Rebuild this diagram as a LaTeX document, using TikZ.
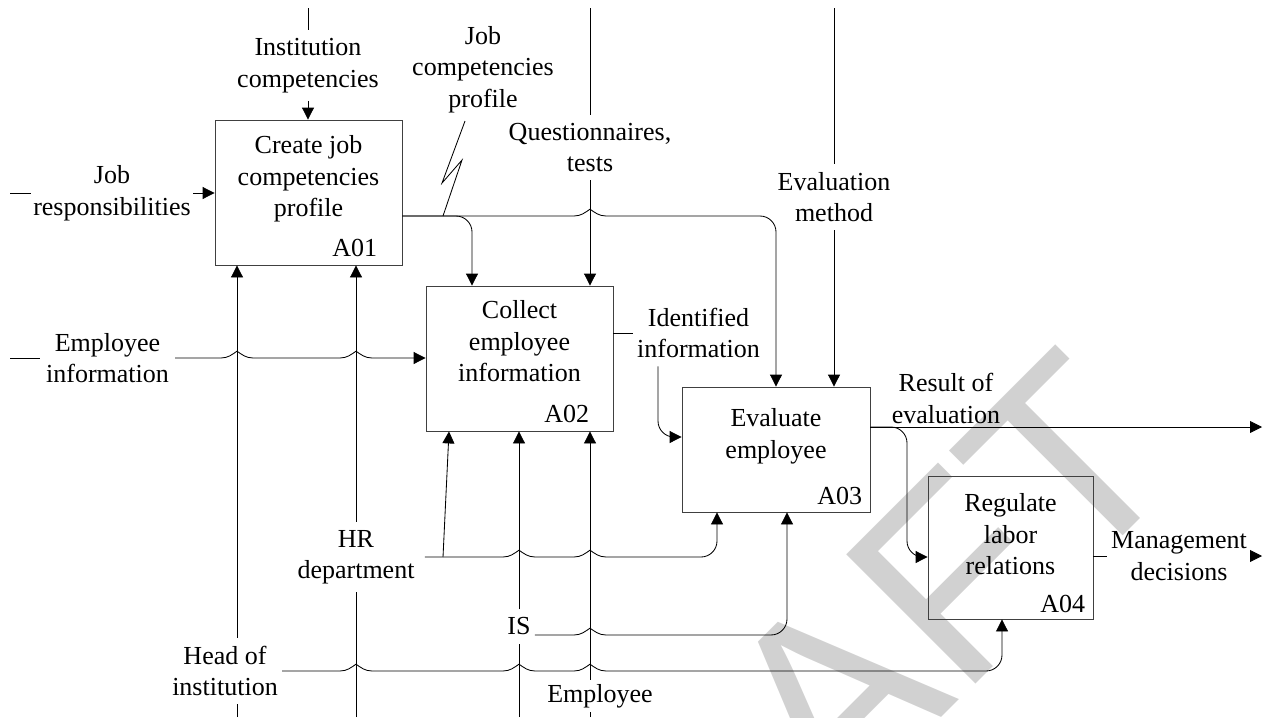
\documentclass[tikz,border=0pt]{standalone}
\usepackage{fontspec}
\setmainfont{Liberation Serif}
\newfontfamily\wmfont{Liberation Sans}
\usetikzlibrary{arrows.meta,positioning,calc}
\newcommand\fnfont{\fontsize{18.5pt}{22.4pt}\selectfont}
\newcommand\hop[1]{-- ([xshift=-4mm]#1) .. controls ([xshift=-2.2mm]#1) and ([xshift=-1.2mm,yshift=0.9mm]#1) .. ([yshift=1.7mm]#1) .. controls ([xshift=1.2mm,yshift=0.9mm]#1) and ([xshift=2.2mm]#1) .. ([xshift=4mm]#1)}

\begin{document}
\begin{tikzpicture}[x=0.25mm, y=-0.25mm,
  fn/.style={draw=black!75, line width=0.6pt, inner sep=0pt},
  ftxt/.style={font=\fnfont, align=center, inner sep=0pt, anchor=north},
  fnum/.style={font=\fnfont, inner sep=0pt},
  lbl/.style={font=\fnfont, align=center, inner xsep=1mm, inner ysep=2mm},
  link/.style={line width=0.6pt, black},
  arr/.style={link, -{Triangle[length=3mm, width=3mm]}},
  wm/.style={font=\wmfont\fontsize{189pt}{189pt}\selectfont, text=black!18, rotate=45, inner sep=0pt},
]
  \useasboundingbox (0,0) rectangle (1263,717);
  \begin{scope}
    \clip (0,0) rectangle (1263,717);
    \node[wm] (draft) at (812,718) {DRAFT};
  \end{scope}

  \node[fn, minimum width=46.75mm, minimum height=36.25mm] (A01) at (308.5,192.5) {};
  \node[fn, minimum width=46.75mm, minimum height=36.25mm] (A02) at (519.5,358.5) {};
  \node[fn, minimum width=47mm, minimum height=31.25mm] (A03) at (776,449.5) {};
  \node[fn, minimum width=41.25mm, minimum height=35.75mm] (A04) at (1010.5,547.5) {};

  \node[ftxt, below=4mm of A01.north] (A01t) {Create job\\competencies\\profile};
  \node[ftxt, below=3.75mm of A02.north] (A02t) {Collect\\employee\\information};
  \node[ftxt, below=5.5mm of A03.north] (A03t) {Evaluate\\employee};
  \node[ftxt, below=4.5mm of A04.north] (A04t) {Regulate\\labor\\relations};

  \node[fnum, above left=2mm and 6.25mm of A01.south east] (A01n) {A01};
  \node[fnum, above left=2mm and 6mm of A02.south east] (A02n) {A02};
  \node[fnum, above left=1.75mm and 2mm of A03.south east] (A03n) {A03};
  \node[fnum, above left=1.5mm and 2mm of A04.south east] (A04n) {A04};

  \coordinate (ic0) at (308,8);
  \coordinate (qt0) at (590,8);
  \coordinate (em0) at (834,8);
  \coordinate (jr0) at (10,193);
  \coordinate (ei0) at (10,358);
  \coordinate (hi0) at (237,717);
  \coordinate (hr0) at (356,717);
  \coordinate (is0) at (519,717);
  \coordinate (ee0) at (590,717);
  \coordinate (re1) at (1262,427);
  \coordinate (md1) at (1262,556);
  \coordinate (sq) at (443,216);

  \node[lbl] (icl) at (308,65.5) {Institution\\competencies};
  \node[lbl] (jcl) at (483,69.5) {Job\\competencies\\profile};
  \node[lbl] (qtl) at (590,147.5) {Questionnaires,\\tests};
  \node[lbl] (eml) at (834,197) {Evaluation\\method};
  \node[lbl, inner xsep=0.5mm] (jrl) at (112,193) {Job\\responsibilities};
  \node[lbl, inner xsep=1.5mm] (eil) at (107.5,358) {Employee\\information};
  \node[lbl] (iil) at (698.5,333) {Identified\\information};
  \node[lbl] (rel) at (946,398.5) {Result of\\evaluation};
  \node[lbl] (mdl) at (1179,556) {Management\\decisions};
  \node[lbl, inner xsep=2.5mm] (hrl) at (356,557) {HR\\department};
  \node[lbl] (hil) at (225,671) {Head of\\institution};
  \node[lbl] (isl) at (519,626.5) {IS};
  \node[lbl, inner ysep=1mm] (eel) at (600,696) {Employee};

  \coordinate (x1) at (hi0 |- eil.east);
  \coordinate (x2) at (hr0 |- eil.east);
  \coordinate (x3) at (qt0 |- sq);
  \coordinate (x4) at (is0 |- hrl.east);
  \coordinate (x5) at (ee0 |- hrl.east);
  \coordinate (x6) at (ee0 |- isl.base east);
  \coordinate (x7) at (hr0 |- hil.east);
  \coordinate (x8) at (is0 |- hil.east);
  \coordinate (x9) at (ee0 |- hil.east);

  \draw[link] (ic0) -- (icl);
  \draw[arr] (icl) -- (A01.north -| icl);
  \draw[link] (qt0) -- (qtl);
  \draw[arr] (qtl) -- (A02.north -| qtl);
  \draw[link] (em0) -- (eml);
  \draw[arr] (eml) -- (A03.north -| eml);

  \draw[link] (jr0) -- (jrl);
  \draw[arr] (jrl.east) -- (A01.west |- jrl.east);
  \draw[link] (ei0) -- (eil);
  \draw[arr] (eil.east) \hop{x1} \hop{x2} -- (A02.west |- eil.east);

  \draw[arr, rounded corners=4mm] (A01.east |- sq) -| (A02.north -| 472,0);
  \draw[arr] (A01.east |- sq) \hop{x3} [rounded corners=4mm] -| (A03.north -| 776,0);
  \draw[link] ([xshift=-4.5mm]jcl.south) -- ++(-23,62) -- ++(20,-23) -- (sq);

  \draw[link] (A02.east |- iil) -- (iil);
  \draw[arr, rounded corners=4mm] (iil.south -| 658,0) |- (A03.west |- 0,437);
  \draw[arr] (A03.east |- re1) -- (re1);
  \draw[arr, rounded corners=4mm] (A03.east |- re1) -| (907,500) |- (A04.west |- 0,557);
  \draw[link] (A04.east |- mdl) -- (mdl);
  \draw[arr] (mdl.east) -- (md1);

  \draw[link] (hi0) -- (hil.south -| hi0);
  \draw[arr] (hil.north -| hi0) -- (A01.south -| hi0);
  \draw[arr] (hil.east) \hop{x7} \hop{x8} \hop{x9} [rounded corners=4mm] -| (A04.south -| 1002,0);
  \draw[link] (hr0) -- (hrl);
  \draw[arr] (hrl) -- (A01.south -| hrl);
  \draw[arr] (hrl.east -| 443,0) -- (A02.south -| 449,0);
  \draw[arr] (hrl.east) \hop{x4} \hop{x5} [rounded corners=4mm] -| (A03.south -| 717,0);
  \draw[link] (is0) -- (isl);
  \draw[arr] (isl) -- (A02.south -| isl);
  \draw[arr] (isl.base east) \hop{x6} [rounded corners=4mm] -| (A03.south -| 787,0);
  \draw[link] (ee0) -- (eel.south -| ee0);
  \draw[arr] (eel.north -| ee0) -- (A02.south -| ee0);
\end{tikzpicture}
\end{document}
